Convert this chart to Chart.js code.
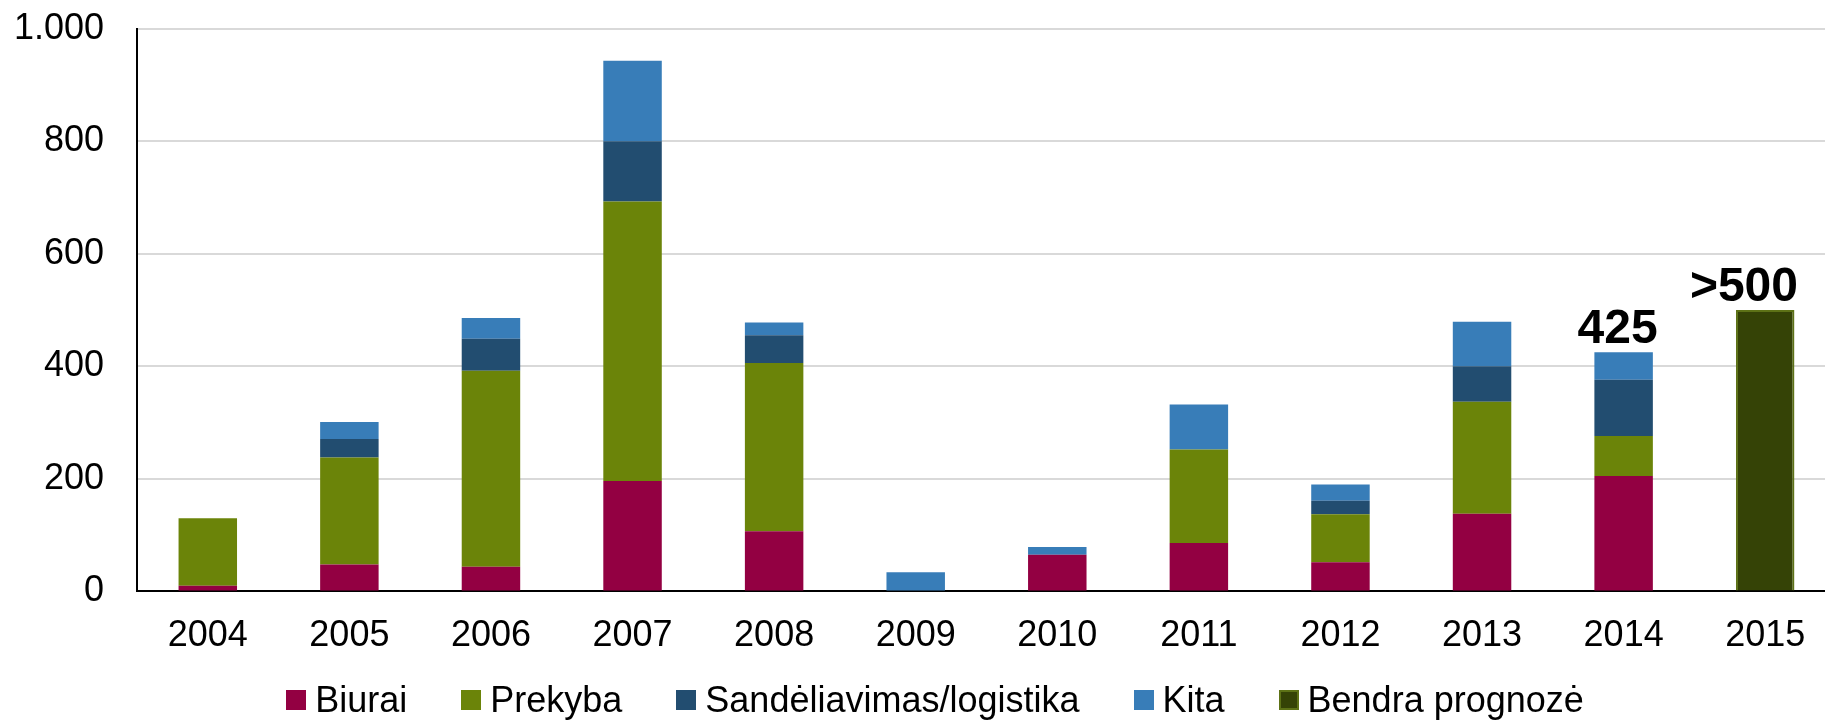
<!DOCTYPE html>
<html lang="lt">
<head>
<meta charset="utf-8">
<title>Investicijų apimtys pagal sektorius</title>
<script src="https://cdn.jsdelivr.net/npm/chart.js@4/dist/chart.umd.min.js"></script>
<style>
  html, body { margin: 0; padding: 0; background: #fff; overflow: hidden; }
  #wrap { position: relative; width: 1840px; height: 720px; }
  #chart { position: absolute; left: 0; top: 0; }
  #legend {
    position: absolute; top: 680px; left: 0; width: 1870px;
    display: flex; justify-content: center; gap: 54px;
    list-style: none; margin: 0; padding: 0;
    font-family: "Liberation Sans", Arial, sans-serif; font-size: 36px; line-height: 40px; color: #000;
    white-space: nowrap;
  }
  #legend li { display: flex; align-items: center; }
  #legend .box { display: inline-block; width: 20px; height: 20px; margin-right: 9px; box-sizing: border-box; border-style: solid; }
</style>
</head>
<body>
<div id="wrap">
  <canvas id="chart" width="1840" height="720"></canvas>
  <ul id="legend"></ul>
</div>
<script>
// Years on the category axis
const years = ['2004', '2005', '2006', '2007', '2008', '2009', '2010', '2011', '2012', '2013', '2014', '2015'];

// Stacked segments per year
const biurai   = [10, 48, 44, 196, 107, 0, 65, 86, 52, 138, 205, 0];
const prekyba  = [120, 190, 348, 497, 299, 0, 0, 166, 85, 199, 71, 0];
const sandelia = [0, 33, 57, 107, 49, 0, 0, 0, 24, 63, 100, 0];
const kita     = [0, 30, 37, 143, 23, 34, 14, 80, 29, 79, 49, 0];
const prognoze = [null, null, null, null, null, null, null, null, null, null, null, 500];

// Value captions above selected bars
const topLabels = ['', '', '', '', '', '', '', '', '', '', '425', '>500'];

// Y axis tick values and their printed form
const yTickValues = [0, 200, 400, 600, 800, 1000];
const yTickLabels = ['0', '200', '400', '600', '800', '1.000'];

const FONT = '"Liberation Sans", Arial, sans-serif';
const VISIBLE_RIGHT = 1825;

// Draws the captions above the stacked totals
const totalsLabelPlugin = {
  id: 'totalsLabel',
  afterDatasetsDraw(chart) {
    const { ctx, scales } = chart;
    const all = chart.data.datasets;
    ctx.save();
    ctx.font = 'bold 48px ' + FONT;
    ctx.fillStyle = '#000';
    ctx.textAlign = 'center';
    ctx.textBaseline = 'alphabetic';
    topLabels.forEach((txt, i) => {
      if (!txt) return;
      let total = 0;
      all.forEach(ds => { const v = ds.data[i]; if (v) total += v; });
      const x0 = scales.x.getPixelForValue(i);
      const y = scales.y.getPixelForValue(total) - 9;
      const w = ctx.measureText(txt).width;
      const x = Math.min(x0 - 6, VISIBLE_RIGHT - 27 - w / 2);
      ctx.fillText(txt, x, y);
    });
    ctx.restore();
  }
};

// Builds the legend as an HTML list from the chart's own legend items
const htmlLegendPlugin = {
  id: 'htmlLegend',
  afterUpdate(chart) {
    const list = document.getElementById('legend');
    list.innerHTML = '';
    const items = chart.options.plugins.legend.labels.generateLabels(chart);
    items.forEach(item => {
      const li = document.createElement('li');
      const box = document.createElement('span');
      box.className = 'box';
      box.style.background = item.fillStyle;
      box.style.borderColor = item.strokeStyle;
      box.style.borderWidth = (item.lineWidth || 0) + 'px';
      li.appendChild(box);
      li.appendChild(document.createTextNode(item.text));
      list.appendChild(li);
    });
  }
};

const bar = { barPercentage: 0.413, categoryPercentage: 1.0, borderWidth: 0 };

new Chart(document.getElementById('chart'), {
  type: 'bar',
  data: {
    labels: years,
    datasets: [
      Object.assign({ label: 'Biurai', data: biurai, backgroundColor: '#930042' }, bar),
      Object.assign({ label: 'Prekyba', data: prekyba, backgroundColor: '#6B8409' }, bar),
      Object.assign({ label: 'Sandėliavimas/logistika', data: sandelia, backgroundColor: '#224D70' }, bar),
      Object.assign({ label: 'Kita', data: kita, backgroundColor: '#387DB8' }, bar),
      Object.assign({ label: 'Bendra prognozė', data: prognoze, backgroundColor: '#354306' }, bar,
        { borderWidth: 2, borderColor: '#5D7216' })
    ]
  },
  options: {
    responsive: false,
    animation: false,
    devicePixelRatio: 1,
    layout: { padding: { top: 0, left: 10, right: 4, bottom: 39.4 } },
    scales: {
      x: {
        stacked: true,
        z: 1,
        grid: { display: false, drawTicks: false },
        border: { display: true, color: '#000', width: 2 },
        ticks: { color: '#000', padding: 23, font: { family: FONT, size: 36 } }
      },
      y: {
        stacked: true,
        min: 0,
        max: 1000,
        afterBuildTicks(s) { s.ticks = yTickValues.map(v => ({ value: v })); },
        grid: { color: '#D9D9D9', lineWidth: 2, drawTicks: true, tickLength: 26, tickColor: 'rgba(0,0,0,0)' },
        border: { display: true, color: '#000', width: 2 },
        ticks: {
          color: '#000',
          padding: 7,
          font: { family: FONT, size: 36 },
          callback: v => yTickLabels[yTickValues.indexOf(v)]
        },
        afterFit(s) { s.width = 127; }
      }
    },
    plugins: {
      legend: { display: false },
      tooltip: { enabled: false }
    }
  },
  plugins: [totalsLabelPlugin, htmlLegendPlugin]
});
</script>
</body>
</html>
